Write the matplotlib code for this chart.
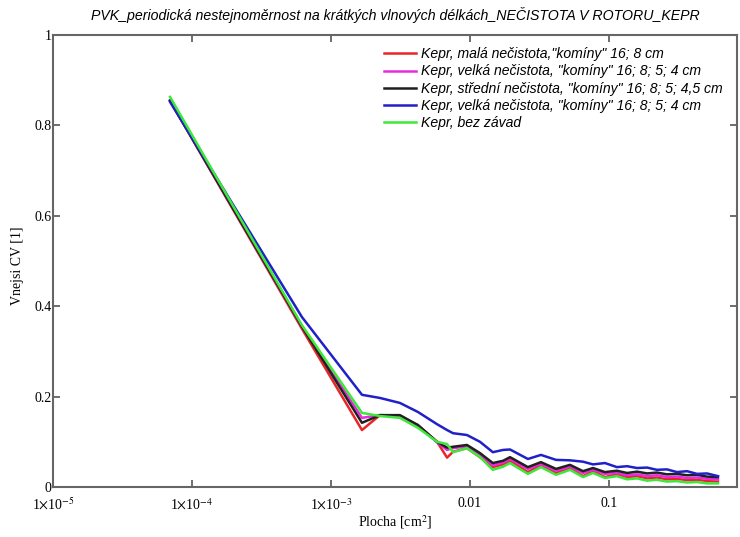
import matplotlib
matplotlib.use("Agg")
import matplotlib.pyplot as plt
from matplotlib.ticker import FixedLocator, NullLocator

x = [6.95e-5, 6.18e-4, 1.67e-3, 2.25e-3, 3.13e-3, 4.22e-3, 5.79e-3, 6.84e-3, 7.55e-3,
     9.51e-3, 1.18e-2, 1.46e-2, 1.73e-2, 1.94e-2, 2.61e-2, 3.24e-2, 4.16e-2, 5.24e-2,
     6.50e-2, 7.67e-2, 9.35e-2, 0.114, 0.135, 0.159, 0.188, 0.221, 0.261, 0.308,
     0.364, 0.430, 0.507, 0.608]

red = [0.855, 0.350, 0.126, 0.159, 0.157, 0.137, 0.100, 0.065, 0.078,
       0.086, 0.066, 0.044, 0.050, 0.058, 0.033, 0.049, 0.031, 0.042,
       0.024, 0.035, 0.022, 0.028, 0.022, 0.024, 0.019, 0.021, 0.017, 0.018,
       0.015, 0.016, 0.013, 0.012]

magenta = [0.855, 0.355, 0.153, 0.159, 0.158, 0.136, 0.099, 0.082, 0.086,
           0.090, 0.072, 0.048, 0.054, 0.062, 0.040, 0.051, 0.036, 0.045,
           0.031, 0.038, 0.029, 0.031, 0.026, 0.028, 0.024, 0.026, 0.022, 0.023,
           0.020, 0.021, 0.018, 0.017]

black = [0.855, 0.355, 0.142, 0.159, 0.159, 0.137, 0.100, 0.087, 0.089,
         0.093, 0.075, 0.053, 0.058, 0.066, 0.044, 0.055, 0.040, 0.049,
         0.035, 0.042, 0.033, 0.036, 0.031, 0.034, 0.030, 0.032, 0.028, 0.029,
         0.026, 0.027, 0.023, 0.022]

blue = [0.852, 0.376, 0.204, 0.197, 0.186, 0.166, 0.139, 0.126, 0.119,
        0.115, 0.100, 0.077, 0.082, 0.083, 0.062, 0.071, 0.060, 0.059,
        0.056, 0.050, 0.053, 0.044, 0.046, 0.042, 0.043, 0.038, 0.039, 0.033,
        0.035, 0.029, 0.030, 0.024]

green = [0.863, 0.358, 0.164, 0.157, 0.153, 0.131, 0.100, 0.095, 0.077,
         0.086, 0.066, 0.038, 0.045, 0.053, 0.029, 0.044, 0.027, 0.038,
         0.022, 0.031, 0.020, 0.024, 0.017, 0.019, 0.014, 0.016, 0.012, 0.013,
         0.010, 0.011, 0.008, 0.008]

labels = [
    'Kepr, malá nečistota,"komíny" 16; 8 cm',
    'Kepr, velká nečistota, "komíny" 16; 8; 5; 4 cm',
    'Kepr, střední nečistota, "komíny" 16; 8; 5; 4,5 cm',
    'Kepr, velká nečistota, "komíny" 16; 8; 5; 4 cm',
    'Kepr, bez závad',
]
colors = ['#e8262a', '#e82ae0', '#202020', '#2020c8', '#3ee83a']

xticks = [1e-5, 1e-4, 1e-3, 1e-2, 1e-1]
xticklabels = [r'1$\times$10$^{-5}$', r'1$\times$10$^{-4}$', r'1$\times$10$^{-3}$', '0.01', '0.1']
yticks = [0, 0.2, 0.4, 0.6, 0.8, 1.0]
yticklabels = ['0', '0.2', '0.4', '0.6', '0.8', '1']

plt.rcParams['mathtext.fontset'] = 'stix'

fig = plt.figure(figsize=(7.4, 5.37), dpi=100)
ax = fig.add_axes([53/740, 1-487/537, (737-53)/740, (487-35)/537])

for ys, c, lab in zip([red, magenta, black, blue, green], colors, labels):
    ax.plot(x, ys, color=c, lw=1.8, label=lab)

ax.set_xscale('log')
ax.set_xlim(1e-5, 10**(-5 + (737-53)/139))
ax.set_ylim(0, 1)
ax.xaxis.set_major_locator(FixedLocator(xticks))
ax.xaxis.set_minor_locator(NullLocator())
ax.set_xticks(xticks)
ax.set_xticklabels(xticklabels, family='Liberation Serif', fontsize=10)
ax.set_yticks(yticks)
ax.set_yticklabels(yticklabels, family='Liberation Serif', fontsize=10)
ax.tick_params(direction='in', length=5, width=1.2, color='#555555', top=True, right=True)
ax.tick_params(axis='x', pad=7)
ax.tick_params(axis='y', pad=1)
for s in ax.spines.values():
    s.set_color('#666666')
    s.set_linewidth(1.5)

ax.set_xlabel(r'Plocha [cm$^2$]', family='Liberation Serif', fontsize=10)
ax.xaxis.set_label_coords(0.5, (487-522)/452, transform=ax.transAxes)
ax.xaxis.label.set_va('center')
ax.set_ylabel('Vnejsi CV [1]', family='Liberation Serif', fontsize=10)
ax.yaxis.set_label_coords((18-53)/684, 0.49, transform=ax.transAxes)
ax.yaxis.label.set_va('center')
ax.set_title('PVK_periodická nestejnoměrnost na krátkých vlnových délkách_NEČISTOTA V ROTORU_KEPR',
             family='Liberation Sans', style='italic', fontsize=10.2, pad=11)

ax.legend(loc='upper left', bbox_to_anchor=(0.475, 0.985), frameon=False,
          prop={'family': 'Liberation Sans', 'style': 'italic', 'size': 10.1},
          handlelength=2.3, handletextpad=0.35, labelspacing=0.22, borderaxespad=0)

fig.savefig('out.png', dpi=100)
